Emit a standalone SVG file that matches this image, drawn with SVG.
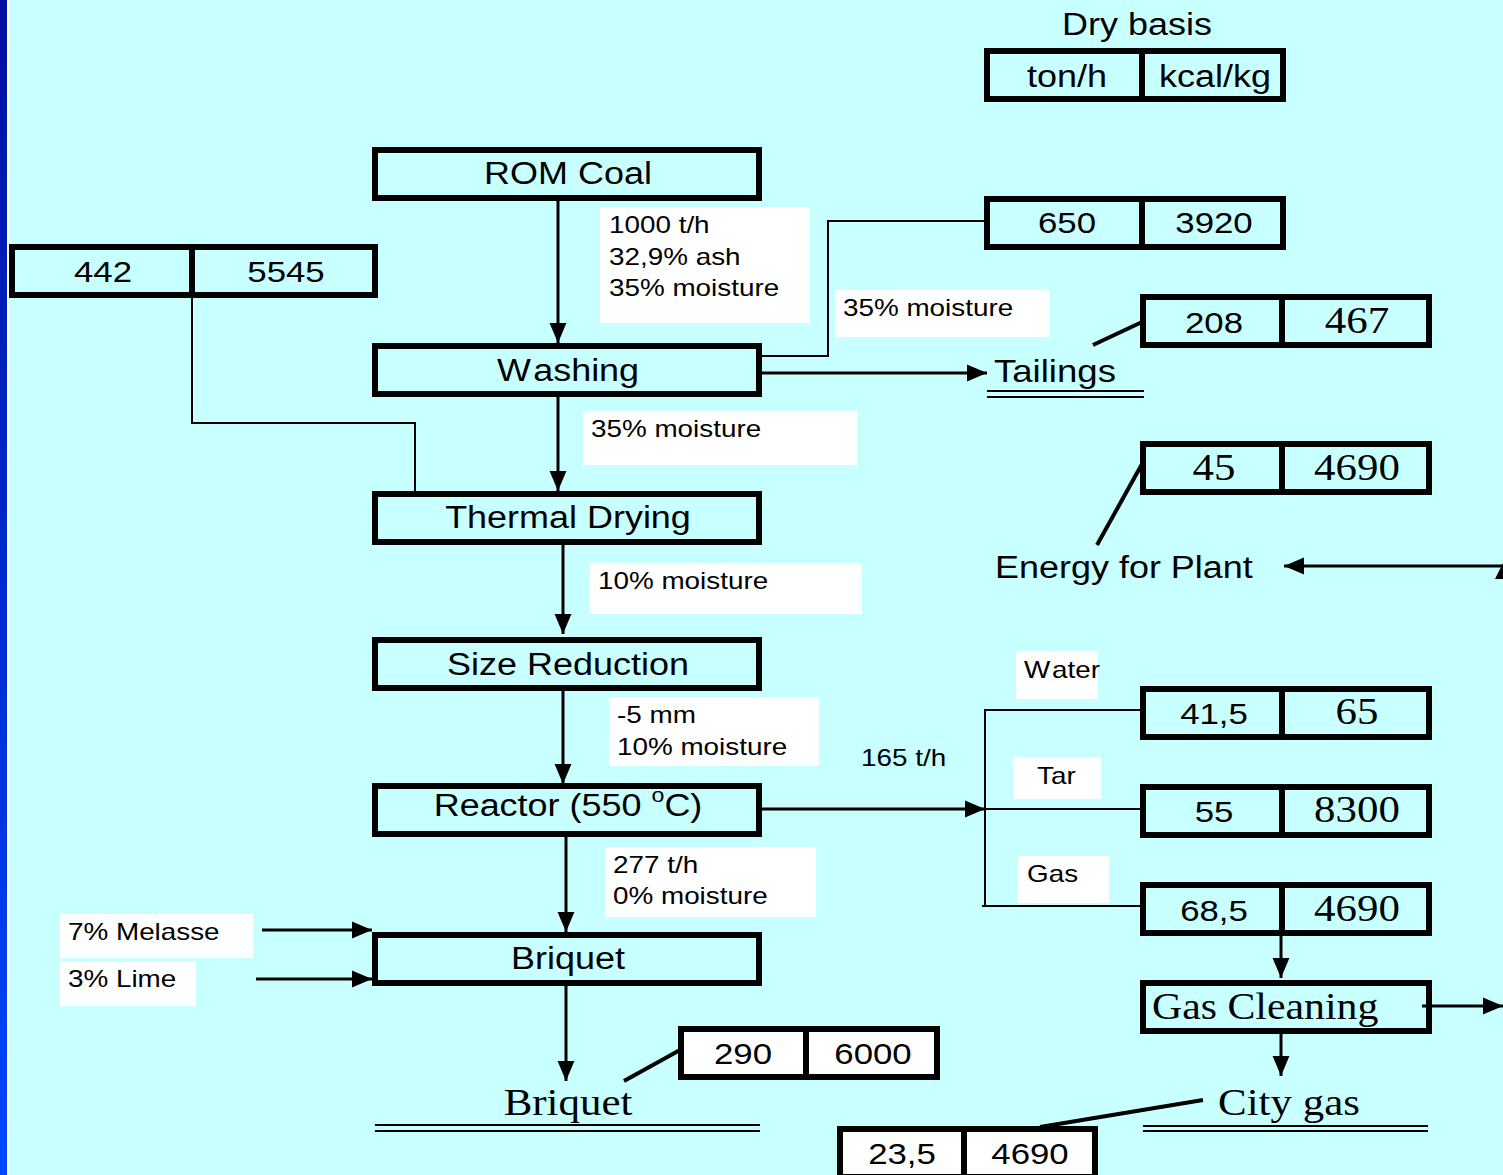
<svg xmlns="http://www.w3.org/2000/svg" width="1503" height="1175" viewBox="0 0 1503 1175">
<defs>
<linearGradient id="bar" x1="0" y1="0" x2="0" y2="1">
<stop offset="0" stop-color="#0010A0"/>
<stop offset="1" stop-color="#0048FF"/>
</linearGradient>
<marker id="ah" markerUnits="userSpaceOnUse" markerWidth="20" markerHeight="18" viewBox="0 0 19 16" refX="19" refY="8" orient="auto">
<path d="M0,0 L19,8 L0,16 z" fill="#000"/>
</marker>
<style>
.bx{fill:none;stroke:#000;stroke-width:6}
.bw{fill:#fff;stroke:#000;stroke-width:6}
.dv{stroke:#000;stroke-width:6}
.lb{fill:#fff}
.s{font-family:"Liberation Sans",Arial,sans-serif;font-size:31px;fill:#000}
.n{font-family:"Liberation Sans",Arial,sans-serif;font-size:30px;fill:#000}
.t{font-family:"Liberation Sans",Arial,sans-serif;font-size:24px;fill:#000}
.r{font-family:"Liberation Serif","Times New Roman",serif;font-size:38px;fill:#000}
.m{text-anchor:middle}
.ar{stroke:#000;stroke-width:3;fill:none;marker-end:url(#ah)}
.th{stroke:#000;stroke-width:2;fill:none}
.tk{stroke:#000;stroke-width:4;fill:none}
</style>
</defs>
<rect width="1503" height="1175" fill="#C8FFFF"/>
<rect x="0" y="0" width="7" height="1175" fill="url(#bar)"/>
<rect x="7" y="0" width="2" height="1175" fill="#fff"/>

<g id="labels">
<rect class="lb" x="600" y="207" width="210" height="116"/>
<text class="t" transform="matrix(1.16 0 0 1 609 233)">1000 t/h</text>
<text class="t" transform="matrix(1.16 0 0 1 609 265)">32,9% ash</text>
<text class="t" transform="matrix(1.16 0 0 1 609 296)">35% moisture</text>
<rect class="lb" x="835" y="290" width="215" height="47"/>
<text class="t" transform="matrix(1.16 0 0 1 843 316)">35% moisture</text>
<rect class="lb" x="583" y="411" width="274" height="54"/>
<text class="t" transform="matrix(1.16 0 0 1 591 437)">35% moisture</text>
<rect class="lb" x="590" y="563" width="272" height="51"/>
<text class="t" transform="matrix(1.16 0 0 1 598 589)">10% moisture</text>
<rect class="lb" x="609" y="697" width="210" height="69"/>
<text class="t" transform="matrix(1.16 0 0 1 617 723)">-5 mm</text>
<text class="t" transform="matrix(1.16 0 0 1 617 755)">10% moisture</text>
<text class="t" transform="matrix(1.16 0 0 1 861 766)">165 t/h</text>
<rect class="lb" x="605" y="847" width="211" height="70"/>
<text class="t" transform="matrix(1.16 0 0 1 613 873)">277 t/h</text>
<text class="t" transform="matrix(1.16 0 0 1 613 904)">0% moisture</text>
<rect class="lb" x="1016" y="651" width="82" height="48"/>
<text class="t" transform="matrix(1.16 0 0 1 1024 678)">W<tspan dx="1.5">ater</tspan></text>
<rect class="lb" x="1013" y="757" width="88" height="42"/>
<text class="t" transform="matrix(1.16 0 0 1 1037 784)">Tar</text>
<rect class="lb" x="1018" y="856" width="91" height="47"/>
<text class="t" transform="matrix(1.16 0 0 1 1027 882)">Gas</text>
<rect class="lb" x="60" y="914" width="193" height="44"/>
<text class="t" transform="matrix(1.16 0 0 1 68 940)">7% Melasse</text>
<rect class="lb" x="60" y="962" width="136" height="44"/>
<text class="t" transform="matrix(1.16 0 0 1 68 987)">3% Lime</text>
</g>

<g id="connectors">
<line class="ar" x1="558" y1="201" x2="558" y2="343"/>
<line class="ar" x1="558" y1="397" x2="558" y2="491"/>
<line class="ar" x1="563" y1="545" x2="563" y2="634"/>
<line class="ar" x1="563" y1="690" x2="563" y2="784"/>
<line class="ar" x1="566" y1="837" x2="566" y2="932"/>
<line class="ar" x1="566" y1="985" x2="566" y2="1081"/>
<polyline class="th" points="762,356 828,356 828,221 984,221"/>
<line class="ar" x1="762" y1="373" x2="987" y2="373"/>
<polyline class="th" points="192,298 192,423 415,423 415,491"/>
<line class="ar" x1="762" y1="809" x2="985" y2="809"/>
<line class="th" x1="985" y1="709" x2="985" y2="906"/>
<line class="th" x1="985" y1="710" x2="1140" y2="710"/>
<line class="th" x1="985" y1="809" x2="1140" y2="809"/>
<line class="th" x1="982" y1="906" x2="1140" y2="906"/>
<line class="ar" x1="1281" y1="936" x2="1281" y2="978"/>
<line class="ar" x1="1281" y1="1034" x2="1281" y2="1076"/>
<line class="ar" x1="1422" y1="1006" x2="1503" y2="1006"/>
<line class="ar" x1="1503" y1="566" x2="1284" y2="566"/>
<polygon points="1495,579 1503,563 1503,579" fill="#000"/>
<line class="ar" x1="262" y1="930" x2="372" y2="930"/>
<line class="ar" x1="256" y1="979" x2="372" y2="979"/>
<line class="tk" x1="1093" y1="345" x2="1142" y2="322"/>
<line class="tk" x1="1097" y1="545" x2="1142" y2="464"/>
<line class="tk" x1="624" y1="1081" x2="680" y2="1050"/>
<line class="tk" x1="1203" y1="1100" x2="1040" y2="1127"/>
</g>

<g id="dry-basis">
<text class="s m" transform="matrix(1.16 0 0 1 1137 35)">Dry basis</text>
<rect class="bx" x="987" y="51" width="296" height="48"/>
<line class="dv" x1="1142" y1="51" x2="1142" y2="99"/>
<text class="s m" transform="matrix(1.16 0 0 1 1067 87)">ton/h</text>
<text class="s m" transform="matrix(1.16 0 0 1 1215 87)">kcal/kg</text>
</g>

<g id="rom-coal">
<rect class="bx" x="375" y="150" width="384" height="48"/>
<text class="s m" transform="matrix(1.16 0 0 1 568 184)">ROM Coal</text>
</g>
<g id="washing">
<rect class="bx" x="375" y="346" width="384" height="48"/>
<text class="s m" transform="matrix(1.16 0 0 1 568 381)">W<tspan dx="2">ashing</tspan></text>
</g>
<g id="thermal-drying">
<rect class="bx" x="375" y="494" width="384" height="48"/>
<text class="s m" transform="matrix(1.16 0 0 1 568 528)">Thermal Drying</text>
</g>
<g id="size-reduction">
<rect class="bx" x="375" y="640" width="384" height="48"/>
<text class="s m" transform="matrix(1.16 0 0 1 568 675)">Size Reduction</text>
</g>
<g id="reactor">
<rect class="bx" x="375" y="786" width="384" height="48"/>
<text class="s m" transform="matrix(1.16 0 0 1 568 816)">Reactor (550 <tspan font-size="20" dy="-14">o</tspan><tspan dy="14">C)</tspan></text>
</g>
<g id="briquet">
<rect class="bx" x="375" y="935" width="384" height="48"/>
<text class="s m" transform="matrix(1.16 0 0 1 568 969)">Briquet</text>
</g>

<g id="box-650">
<rect class="bx" x="987" y="199" width="296" height="48"/>
<line class="dv" x1="1142" y1="199" x2="1142" y2="247"/>
<text class="n m" transform="matrix(1.16 0 0 1 1067 233)">650</text>
<text class="n m" transform="matrix(1.16 0 0 1 1214 233)">3920</text>
</g>
<g id="box-442">
<rect class="bx" x="12" y="247" width="363" height="48"/>
<line class="dv" x1="192" y1="247" x2="192" y2="295"/>
<text class="n m" transform="matrix(1.16 0 0 1 103 282)">442</text>
<text class="n m" transform="matrix(1.16 0 0 1 286 282)">5545</text>
</g>
<g id="box-208">
<rect class="bx" x="1143" y="297" width="286" height="48"/>
<line class="dv" x1="1282" y1="297" x2="1282" y2="345"/>
<text class="n m" transform="matrix(1.16 0 0 1 1214 333)">208</text>
<text class="r m" transform="matrix(1.13 0 0 1 1357 333)">467</text>
</g>
<g id="tailings">
<text class="s" transform="matrix(1.18 0 0 1 994 382)">Tailings</text>
<line class="th" x1="987" y1="391" x2="1144" y2="391"/>
<line class="th" x1="987" y1="397" x2="1144" y2="397"/>
</g>
<g id="box-45">
<rect class="bx" x="1143" y="444" width="286" height="48"/>
<line class="dv" x1="1282" y1="444" x2="1282" y2="492"/>
<text class="r m" transform="matrix(1.13 0 0 1 1214 480)">45</text>
<text class="r m" transform="matrix(1.13 0 0 1 1357 480)">4690</text>
</g>
<g id="energy">
<text class="s" transform="matrix(1.16 0 0 1 995 578)">Energy for Plant</text>
</g>
<g id="box-water">
<rect class="bx" x="1143" y="689" width="286" height="48"/>
<line class="dv" x1="1282" y1="689" x2="1282" y2="737"/>
<text class="n m" transform="matrix(1.16 0 0 1 1214 724)">41,5</text>
<text class="r m" transform="matrix(1.13 0 0 1 1357 724)">65</text>
</g>
<g id="box-tar">
<rect class="bx" x="1143" y="787" width="286" height="48"/>
<line class="dv" x1="1282" y1="787" x2="1282" y2="835"/>
<text class="n m" transform="matrix(1.16 0 0 1 1214 822)">55</text>
<text class="r m" transform="matrix(1.13 0 0 1 1357 822)">8300</text>
</g>
<g id="box-gas">
<rect class="bx" x="1143" y="885" width="286" height="48"/>
<line class="dv" x1="1282" y1="885" x2="1282" y2="933"/>
<text class="n m" transform="matrix(1.16 0 0 1 1214 921)">68,5</text>
<text class="r m" transform="matrix(1.13 0 0 1 1357 921)">4690</text>
</g>
<g id="gas-cleaning">
<rect class="bx" x="1143" y="983" width="286" height="48"/>
<text class="r" transform="matrix(1.1 0 0 1 1152 1019)">Gas Cleaning</text>
</g>
<g id="box-290">
<rect class="bw" x="681" y="1029" width="256" height="48"/>
<line class="dv" x1="806" y1="1029" x2="806" y2="1077"/>
<text class="n m" transform="matrix(1.16 0 0 1 743 1064)">290</text>
<text class="n m" transform="matrix(1.16 0 0 1 873 1064)">6000</text>
</g>
<g id="briquet-out">
<text class="r m" transform="matrix(1.13 0 0 1 568 1115)">Briquet</text>
<line class="th" x1="375" y1="1125" x2="760" y2="1125"/>
<line class="th" x1="375" y1="1131" x2="760" y2="1131"/>
</g>
<g id="city-gas">
<text class="r" transform="matrix(1.13 0 0 1 1218 1115)">City gas</text>
<line class="th" x1="1143" y1="1126" x2="1428" y2="1126"/>
<line class="th" x1="1143" y1="1131" x2="1428" y2="1131"/>
</g>
<g id="box-235">
<rect class="bw" x="840" y="1129" width="255" height="48"/>
<line class="dv" x1="964" y1="1129" x2="964" y2="1177"/>
<text class="n m" transform="matrix(1.16 0 0 1 902 1164)">23,5</text>
<text class="n m" transform="matrix(1.16 0 0 1 1030 1164)">4690</text>
</g>
</svg>
